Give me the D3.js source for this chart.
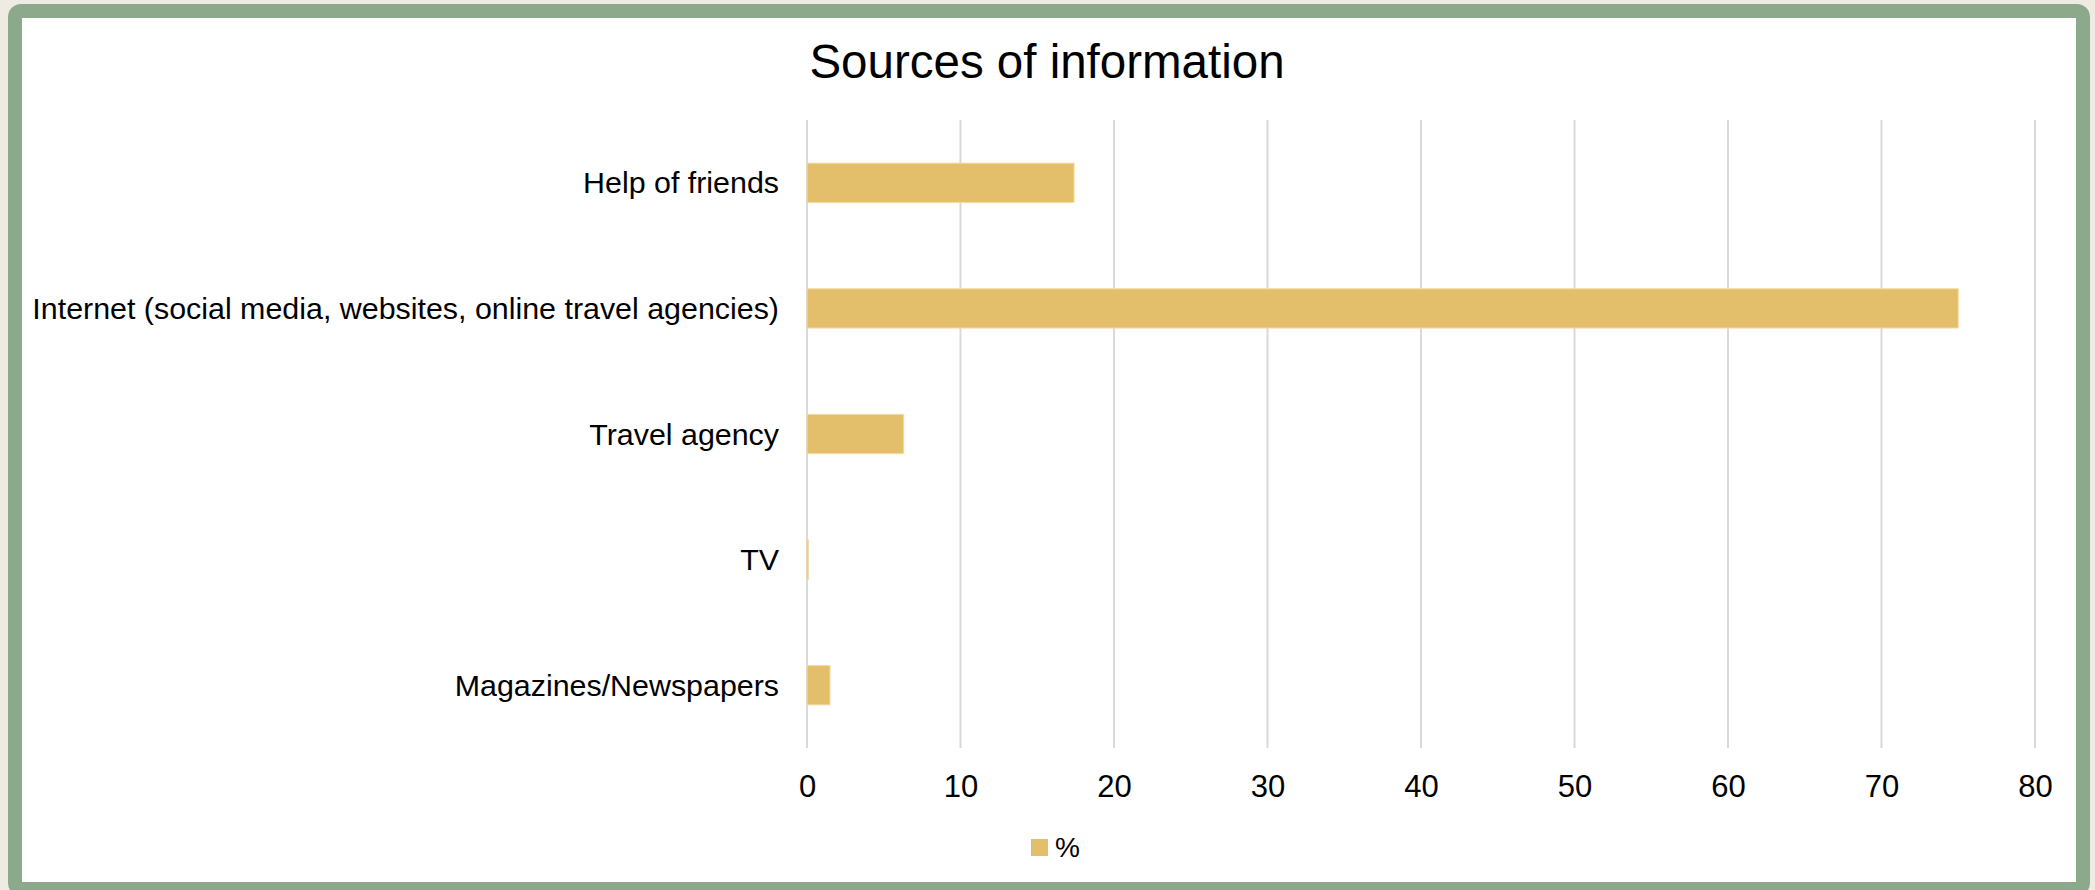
<!DOCTYPE html>
<html>
<head>
<meta charset="utf-8">
<script src="https://cdn.jsdelivr.net/npm/d3@7"></script>
<style>
  body { margin: 0; background: #efebe3; }
  svg { display: block; }
  text { font-family: "Liberation Sans", Arial, sans-serif; fill: #000; }
</style>
</head>
<body>
<svg id="chart" width="2095" height="890"></svg>
<script>
// data
var categories = ["Help of friends",
  "Internet (social media, websites, online travel agencies)",
  "Travel agency", "TV", "Magazines/Newspapers"];
var values = [17.4, 75.0, 6.3, 0.1, 1.5];
var xTicks = [0, 10, 20, 30, 40, 50, 60, 70, 80];
var seriesName = "%";

var svg = d3.select("#chart");

// frame
svg.append("rect")
  .attr("x", 15).attr("y", 11)
  .attr("width", 2068).attr("height", 878)
  .attr("rx", 6)
  .attr("fill", "#fff")
  .attr("stroke", "#8caa8b")
  .attr("stroke-width", 14);

var xScale = d3.scaleLinear().domain([0, 80]).range([807, 2035]);
var yScale = d3.scaleBand().domain(categories).range([120, 748])
  .paddingInner(0.687).paddingOuter(0.687 / 2);

// title
svg.append("text")
  .attr("x", 1047).attr("y", 78)
  .attr("text-anchor", "middle")
  .style("font-size", "47.5px")
  .text("Sources of information");

// gridlines
svg.append("g").selectAll("line")
  .data(xTicks).enter().append("line")
  .attr("x1", d => xScale(d)).attr("x2", d => xScale(d))
  .attr("y1", 120).attr("y2", 748)
  .attr("stroke", "#d9d9d9")
  .attr("stroke-width", 2);

// x axis labels via d3 axis
var xAxis = d3.axisBottom(xScale).tickValues(xTicks).tickSize(0).tickPadding(0);
var gx = svg.append("g").attr("transform", "translate(0,748)").call(xAxis);
gx.select(".domain").remove();
gx.selectAll("text")
  .attr("y", 49).attr("dy", null)
  .style("font-size", "31px")
  .style("font-family", "'Liberation Sans', Arial, sans-serif")
  .attr("fill", "#000");

// category labels
var yAxis = d3.axisLeft(yScale).tickSize(0).tickPadding(0);
var gy = svg.append("g").attr("transform", "translate(779,0)").call(yAxis);
gy.select(".domain").remove();
gy.selectAll("text")
  .attr("dy", "0.35em")
  .style("font-size", "30.4px")
  .style("font-family", "'Liberation Sans', Arial, sans-serif")
  .attr("fill", "#000");

// bars
svg.append("g").selectAll("rect")
  .data(values).enter().append("rect")
  .attr("x", xScale(0))
  .attr("y", (d, i) => yScale(categories[i]))
  .attr("width", d => xScale(d) - xScale(0))
  .attr("height", yScale.bandwidth())
  .attr("fill", "#e4bf6b")
  .attr("stroke", "#f2dca6")
  .attr("stroke-width", 1);

// legend
var legend = svg.append("g").attr("transform", "translate(1031,839)");
legend.append("rect")
  .attr("width", 17).attr("height", 17)
  .attr("fill", "#e4bf6b");
legend.append("text")
  .attr("x", 24).attr("y", 18)
  .style("font-size", "28px")
  .text(seriesName);
</script>
</body>
</html>
